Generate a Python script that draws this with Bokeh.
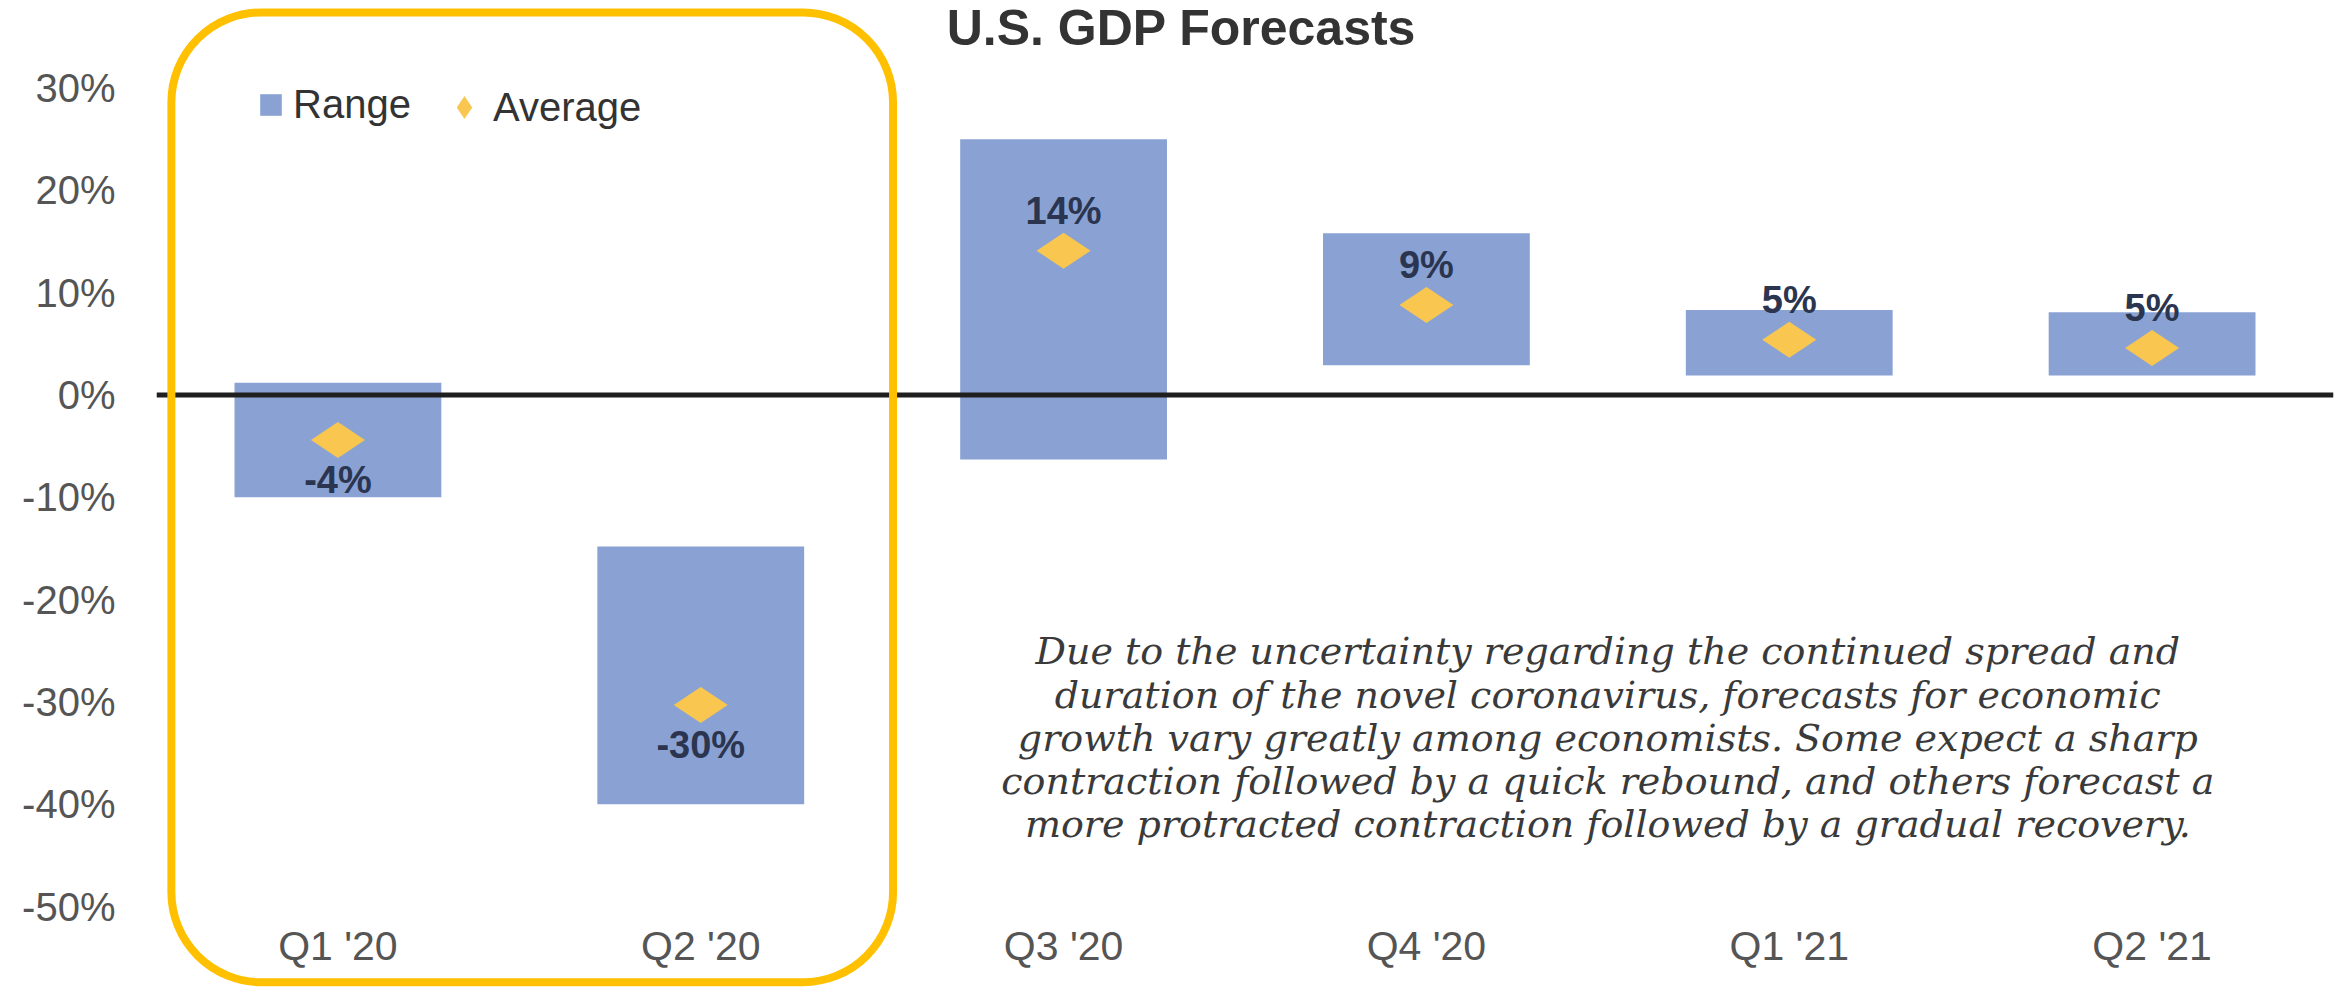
import math
from bokeh.plotting import figure
from bokeh.models import (Range1d, FactorRange, FixedTicker, PrintfTickFormatter, Span, Label,
                          BoxAnnotation, Legend, LegendItem, ColumnDataSource)
from bokeh.embed import file_html
from bokeh.resources import INLINE
from bokeh.core.properties import value

# ---------------- data ----------------
quarters = ["Q1 '20", "Q2 '20", "Q3 '20", "Q4 '20", "Q1 '21", "Q2 '21"]
range_low = [-10.0, -40.0, -6.3, 2.9, 1.9, 1.9]
range_high = [1.2, -14.8, 25.0, 15.8, 8.3, 8.1]
average = [-4.4, -30.3, 14.1, 8.8, 5.4, 4.6]
average_labels = ["-4%", "-30%", "14%", "9%", "5%", "5%"]
y_ticks = [-50, -40, -30, -20, -10, 0, 10, 20, 30]
title_text = "U.S. GDP Forecasts"
note_lines = [
    "Due to the uncertainty regarding the continued spread and",
    "duration of the novel coronavirus, forecasts for economic",
    "growth vary greatly among economists. Some expect a sharp",
    "contraction followed by a quick rebound, and others forecast a",
    "more protracted contraction followed by a gradual recovery.",
]

# ---------------- layout / styles ----------------
W, H = 2338, 991
PX_PER_UNIT = 10.23          # screen pixels per 1 percentage point
Y_MINUS50_PX = 906           # screen row of the -50% tick
y_top = -50 + Y_MINUS50_PX / PX_PER_UNIT
y_bottom = -50 - (H - Y_MINUS50_PX) / PX_PER_UNIT

BAR = "#8AA2D3"
DIAMOND = "#F9C74F"
HILITE = "#FFC000"
SANS = "Liberation Sans"

src = ColumnDataSource(dict(
    quarter=quarters, low=range_low, high=range_high, avg=average,
    label=average_labels,
    yoff=[-40 if a >= 0 else 40 for a in average],
))

p = figure(width=W, height=H,
           x_range=FactorRange(factors=quarters, range_padding=0),
           y_range=Range1d(y_bottom, y_top),
           output_backend="svg", toolbar_location=None,
           min_border_left=156, min_border_right=5,
           min_border_top=0, min_border_bottom=0)
p.outline_line_color = None
p.xgrid.visible = False
p.ygrid.visible = False
p.background_fill_color = "white"
p.border_fill_color = "white"

# axes
for ax in (p.xaxis[0], p.yaxis[0]):
    ax.axis_line_color = None
    ax.major_tick_line_color = None
    ax.minor_tick_line_color = None
    ax.major_tick_in = 0
    ax.major_tick_out = 0
    ax.minor_tick_in = 0
    ax.minor_tick_out = 0
    ax.major_label_text_font = SANS
    ax.major_label_text_color = "#555555"

p.xaxis[0].fixed_location = y_ticks[0]
p.xaxis.major_label_text_font_size = "41px"
p.xaxis.major_label_standoff = 16
p.yaxis.ticker = FixedTicker(ticks=y_ticks)
p.yaxis.formatter = PrintfTickFormatter(format="%d%%")
p.yaxis.major_label_text_font_size = "40px"
p.yaxis.major_label_standoff = 41

# bars (range)
bars = p.vbar(x="quarter", top="high", bottom="low", width=0.57, source=src,
              fill_color=BAR, line_color=None)

# zero line
p.add_layout(Span(location=0, dimension="width", line_color="#1f1f1f", line_width=5))

# averages
dia = p.scatter(x="quarter", y="avg", source=src, marker="diamond", size=54,
                angle=math.pi / 2, fill_color=DIAMOND, line_color=None)

p.text(x="quarter", y="avg", text="label", y_offset="yoff", source=src,
       text_align="center", text_baseline="middle", text_font=value(SANS),
       text_font_style="bold", text_font_size="38px", text_color="#2B3550")

# legends
leg1 = Legend(items=[LegendItem(label="Range", renderers=[bars])],
              location=(101, 864), orientation="horizontal",
              glyph_width=27, glyph_height=27, label_standoff=9,
              padding=0, margin=0, border_line_color=None, background_fill_alpha=0,
              label_text_font=SANS, label_text_font_size="40px", label_text_color="#333333")
leg2 = Legend(items=[LegendItem(label="Average", renderers=[dia])],
              location=(279, 855), orientation="horizontal",
              glyph_width=58, glyph_height=58, label_standoff=-9,
              padding=0, margin=0, border_line_color=None, background_fill_alpha=0,
              label_text_font=SANS, label_text_font_size="40px", label_text_color="#333333")
p.add_layout(leg1)
p.add_layout(leg2)

# title
p.add_layout(Label(x=2.825, y=35.9, text=title_text, text_align="center",
                   text_baseline="middle", text_font=SANS, text_font_style="bold",
                   text_font_size="50px", text_color="#333333"))

# note
p.add_layout(Label(x=4.0, y=-33.5, text="\n".join(note_lines), text_align="center",
                   text_baseline="middle", text_font="DejaVu Serif", text_font_style="italic",
                   text_font_size="38px", text_line_height=0.98, text_color="#3a3a3a"))

# highlight box around 2020 H1
p.add_layout(BoxAnnotation(left=0.041, right=2.03, top=37.4, bottom=-57.4,
                           fill_color=None, line_color=HILITE, line_alpha=1.0,
                           line_width=8, border_radius=90, level="overlay"))

open("out.html", "w").write(file_html(p, INLINE))
